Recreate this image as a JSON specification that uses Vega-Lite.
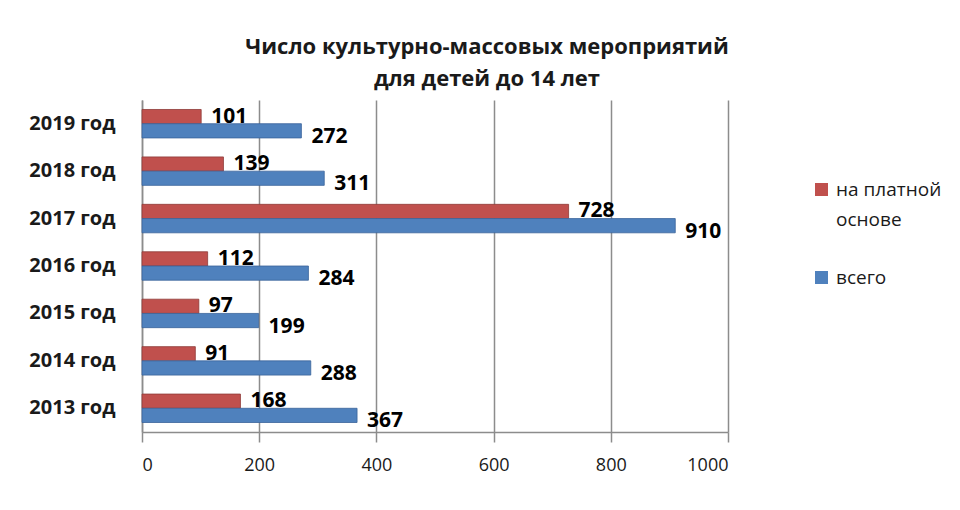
{
  "$schema": "https://vega.github.io/schema/vega-lite/v6.json",
  "width": 586,
  "height": 332,
  "autosize": "none",
  "padding": {"left": 142, "top": 100, "right": 232, "bottom": 78},
  "background": "white",
  "view": {"stroke": null},
  "title": {
    "text": ["Число культурно-массовых мероприятий", "для детей до 14 лет"],
    "font": "Open Sans",
    "fontSize": 22,
    "fontWeight": "bold",
    "color": "#1a1a1a",
    "lineHeight": 32,
    "anchor": "middle",
    "dx": 52,
    "offset": 9
  },
  "data": {
    "values": [
      {"year": "2019 год", "series": "на платной основе", "value": 101},
      {"year": "2019 год", "series": "всего", "value": 272},
      {"year": "2018 год", "series": "на платной основе", "value": 139},
      {"year": "2018 год", "series": "всего", "value": 311},
      {"year": "2017 год", "series": "на платной основе", "value": 728},
      {"year": "2017 год", "series": "всего", "value": 910},
      {"year": "2016 год", "series": "на платной основе", "value": 112},
      {"year": "2016 год", "series": "всего", "value": 284},
      {"year": "2015 год", "series": "на платной основе", "value": 97},
      {"year": "2015 год", "series": "всего", "value": 199},
      {"year": "2014 год", "series": "на платной основе", "value": 91},
      {"year": "2014 год", "series": "всего", "value": 288},
      {"year": "2013 год", "series": "на платной основе", "value": 168},
      {"year": "2013 год", "series": "всего", "value": 367}
    ]
  },
  "encoding": {
    "y": {
      "field": "year",
      "type": "nominal",
      "sort": ["2019 год", "2018 год", "2017 год", "2016 год", "2015 год", "2014 год", "2013 год"],
      "scale": {"paddingInner": 0.4, "paddingOuter": 0.2},
      "axis": {
        "title": null,
        "ticks": false,
        "domainColor": "#8c8c8c",
        "domainWidth": 1.5,
        "labelFont": "Open Sans",
        "labelFontSize": 20,
        "labelFontWeight": "bold",
        "labelColor": "#1a1a1a",
        "labelPadding": 27
      }
    },
    "yOffset": {
      "field": "series",
      "type": "nominal",
      "sort": ["на платной основе", "всего"],
      "scale": {"paddingInner": 0}
    },
    "x": {
      "field": "value",
      "type": "quantitative",
      "scale": {"domain": [0, 1000]},
      "axis": {
        "title": null,
        "values": [0, 200, 400, 600, 800, 1000],
        "format": "d",
        "grid": true,
        "gridColor": "#8c8c8c",
        "gridWidth": 1.5,
        "domainColor": "#8c8c8c",
        "domainWidth": 1.5,
        "tickColor": "#8c8c8c",
        "tickWidth": 1.5,
        "tickSize": 10,
        "labelFont": "Open Sans",
        "labelFontSize": 18,
        "labelColor": "#1a1a1a",
        "labelPadding": 14
      }
    }
  },
  "layer": [
    {
      "mark": {"type": "bar", "strokeWidth": 0.8},
      "encoding": {
        "color": {
          "field": "series",
          "type": "nominal",
          "scale": {"domain": ["на платной основе", "всего"], "range": ["#C0504D", "#4F81BD"]},
          "legend": {
            "title": null,
            "orient": "none",
            "legendX": 670,
            "legendY": 80,
            "symbolType": "square",
            "symbolSize": 170,
            "symbolStrokeWidth": 0,
            "labelFont": "Open Sans",
            "labelFontSize": 19,
            "labelColor": "#1a1a1a",
            "labelLimit": 300,
            "labelOffset": 5,
            "rowPadding": 38,
            "labelExpr": "datum.label == 'на платной основе' ? ['на платной', 'основе'] : datum.label",
            "encode": {"labels": {"update": {"lineHeight": {"value": 30}}}}
          }
        },
        "stroke": {
          "field": "series",
          "type": "nominal",
          "scale": {"domain": ["на платной основе", "всего"], "range": ["#8e3a37", "#3a639a"]},
          "legend": null
        }
      }
    },
    {
      "transform": [{"filter": "datum.series == 'на платной основе'"}],
      "mark": {"type": "text", "align": "left", "dx": 10, "dy": 0, "font": "Open Sans", "fontSize": 21, "fontWeight": "bold", "color": "#000000"},
      "encoding": {"text": {"field": "value", "type": "quantitative"}}
    },
    {
      "transform": [{"filter": "datum.series == 'всего'"}],
      "mark": {"type": "text", "align": "left", "dx": 10, "dy": 6, "font": "Open Sans", "fontSize": 21, "fontWeight": "bold", "color": "#000000"},
      "encoding": {"text": {"field": "value", "type": "quantitative"}}
    }
  ]
}
